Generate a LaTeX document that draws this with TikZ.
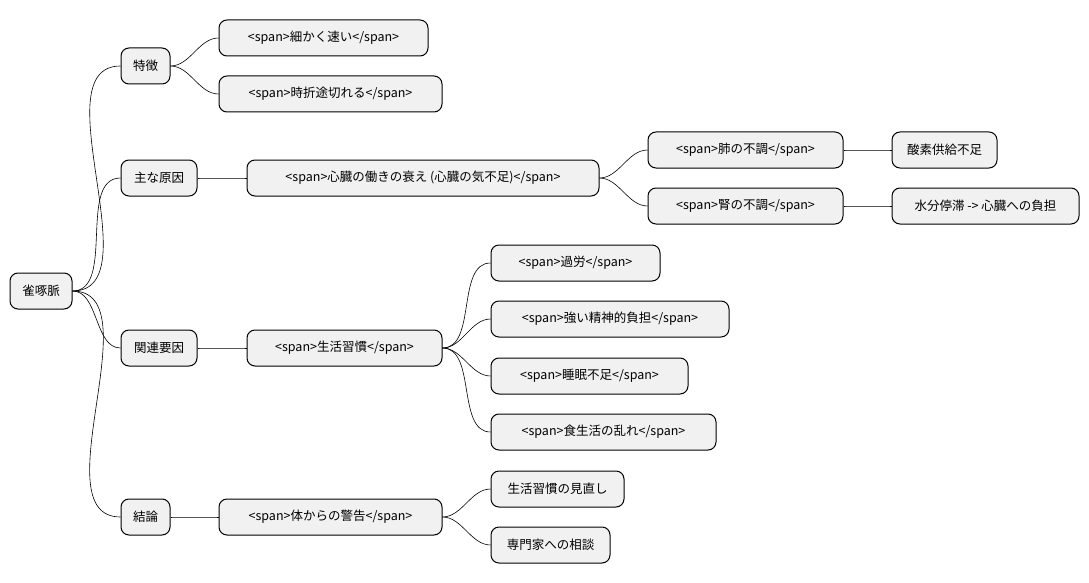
\documentclass[tikz,border=0pt]{standalone}
\usepackage{fontspec}
\setmainfont{Noto Sans CJK JP}
\usetikzlibrary{positioning}
\definecolor{boxgray}{RGB}{241,241,241}

\begin{document}
\begin{tikzpicture}[x=1pt, y=-1pt,
    topic/.style={rectangle, rounded corners=8pt, draw=black, line width=1pt, fill=boxgray, minimum height=36pt, inner sep=0pt, font=\fontsize{12.5}{14}\selectfont},
    link/.style={line width=0.6pt, out=0, in=180, looseness=0.9}
]
\useasboundingbox (0,0) rectangle (1089,583);

% Root and main branches
\node[topic, minimum width=62pt] (root) at (41,291) {雀啄脈};
\node[topic, minimum width=49pt] (feat) at (145.5,66) {特徴};
\node[topic, minimum width=76pt] (cause) at (159,178) {主な原因};
\node[topic, minimum width=76pt] (rel) at (159,348) {関連要因};
\node[topic, minimum width=49pt] (concl) at (145.5,517) {結論};

% Features
\node[topic, minimum width=209pt] (fast) at (323.5,38) {<span>細かく速い</span>};
\node[topic, minimum width=223pt] (broken) at (330.5,94) {<span>時折途切れる</span>};

% Causes
\node[topic, minimum width=352pt] (heart) at (423,178) {<span>心臓の働きの衰え (心臓の気不足)</span>};
\node[topic, minimum width=195pt] (lung) at (745.5,150) {<span>肺の不調</span>};
\node[topic, minimum width=195pt] (kidney) at (745.5,206) {<span>腎の不調</span>};
\node[topic, minimum width=105pt] (oxy) at (944.5,150) {酸素供給不足};
\node[topic, minimum width=187pt] (water) at (985.5,206) {水分停滞 -> 心臓への負担};

% Related factors
\node[topic, minimum width=195pt] (life) at (344.5,348) {<span>生活習慣</span>};
\node[topic, minimum width=169pt] (work) at (575.5,263) {<span>過労</span>};
\node[topic, minimum width=238pt] (stress) at (610,319) {<span>強い精神的負担</span>};
\node[topic, minimum width=197pt] (sleep) at (589.5,376) {<span>睡眠不足</span>};
\node[topic, minimum width=225pt] (diet) at (603.5,432) {<span>食生活の乱れ</span>};

% Conclusion
\node[topic, minimum width=223pt] (warn) at (330.5,517) {<span>体からの警告</span>};
\node[topic, minimum width=133pt] (review) at (557.5,489) {生活習慣の見直し};
\node[topic, minimum width=119pt] (consult) at (550.5,545) {専門家への相談};

% Connectors
\foreach \a/\b in {root/feat, root/cause, root/rel, root/concl,
    feat/fast, feat/broken, cause/heart, heart/lung, heart/kidney,
    lung/oxy, kidney/water, rel/life, life/work, life/stress,
    life/sleep, life/diet, concl/warn, warn/review, warn/consult}
  \draw[link] (\a.east) to (\b.west);
\end{tikzpicture}
\end{document}
